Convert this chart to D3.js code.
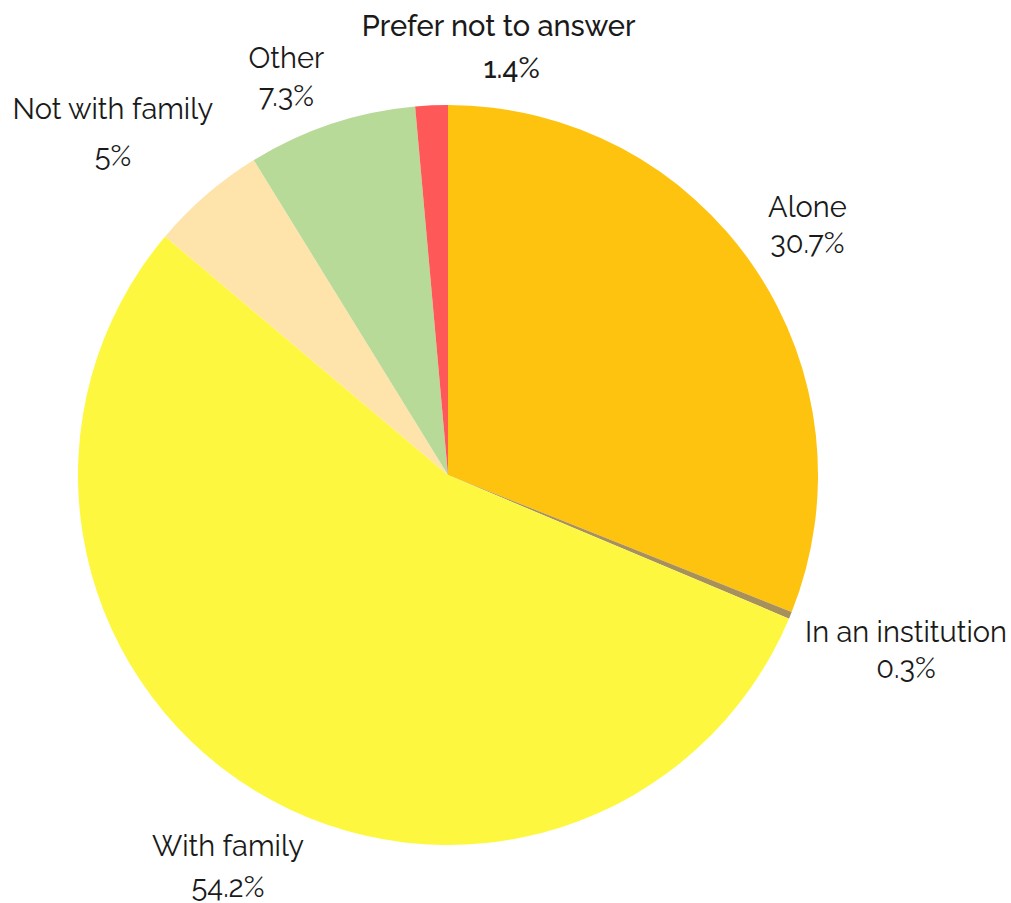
<!DOCTYPE html>
<html>
<head>
<meta charset="utf-8">
<script src="https://cdn.jsdelivr.net/npm/d3@7"></script>
<style>
  html, body { margin: 0; padding: 0; background: #ffffff; }
  svg { display: block; }
  text { font-family: Raleway, Lato, "Open Sans", sans-serif; fill: #1a1a1a; }
</style>
</head>
<body>
<svg id="chart" width="1011" height="903"></svg>
<script>
// Living arrangement shares (%)
const categories = ["Alone", "In an institution", "With family", "Not with family", "Other", "Prefer not to answer"];
const values = [30.7, 0.3, 54.2, 5, 7.3, 1.4];
const valueLabels = ["30.7%", "0.3%", "54.2%", "5%", "7.3%", "1.4%"];
const colors = ["#FEC30F", "#A8905A", "#FDF83F", "#FEE4AA", "#B8DA98", "#FF5859"];

// label nudges (px) from the outer label anchor, line spacing and emphasis per label
const labelNudge = [[-2, -5], [54, 9], [8, 19], [-50, -12], [-24, 16], [70, 8]];
const valueShift = [0, 0, 0, 0, 0, 13];
const lineGap = [36, 36, 41, 47, 38, 42];
const boldLabel = [false, false, false, false, false, true];

const width = 1011, height = 903;
const cx = 448, cy = 475, radius = 370;
const fontSize = 29;

const svg = d3.select("#chart");
const g = svg.append("g").attr("transform", `translate(${cx},${cy})`);

const data = categories.map((c, i) => ({ name: c, value: values[i], i }));

const pie = d3.pie().value(d => d.value).sort(null).startAngle(0).endAngle(2 * Math.PI);
const arcs = pie(data);

const arc = d3.arc().innerRadius(0).outerRadius(radius);
const labelArc = d3.arc().innerRadius(radius * 1.18).outerRadius(radius * 1.18);

g.selectAll("path.slice")
  .data(arcs)
  .join("path")
  .attr("class", "slice")
  .attr("d", arc)
  .attr("fill", d => colors[d.data.i]);

const labels = g.selectAll("g.label")
  .data(arcs)
  .join("g")
  .attr("class", "label")
  .attr("transform", d => {
    const [x, y] = labelArc.centroid(d);
    const [nx, ny] = labelNudge[d.data.i];
    return `translate(${x + nx},${y + ny})`;
  });

labels.append("text")
  .attr("text-anchor", "middle")
  .attr("y", d => -lineGap[d.data.i] / 2)
  .attr("dy", "0.35em")
  .style("font-size", fontSize + "px")
  .style("font-weight", d => boldLabel[d.data.i] ? 500 : 400)
  .text(d => d.data.name);

labels.append("text")
  .attr("text-anchor", "middle")
  .attr("x", d => valueShift[d.data.i])
  .attr("y", d => lineGap[d.data.i] / 2)
  .attr("dy", "0.35em")
  .style("font-size", fontSize + "px")
  .style("font-weight", d => boldLabel[d.data.i] ? 500 : 400)
  .text(d => valueLabels[d.data.i]);
</script>
</body>
</html>
